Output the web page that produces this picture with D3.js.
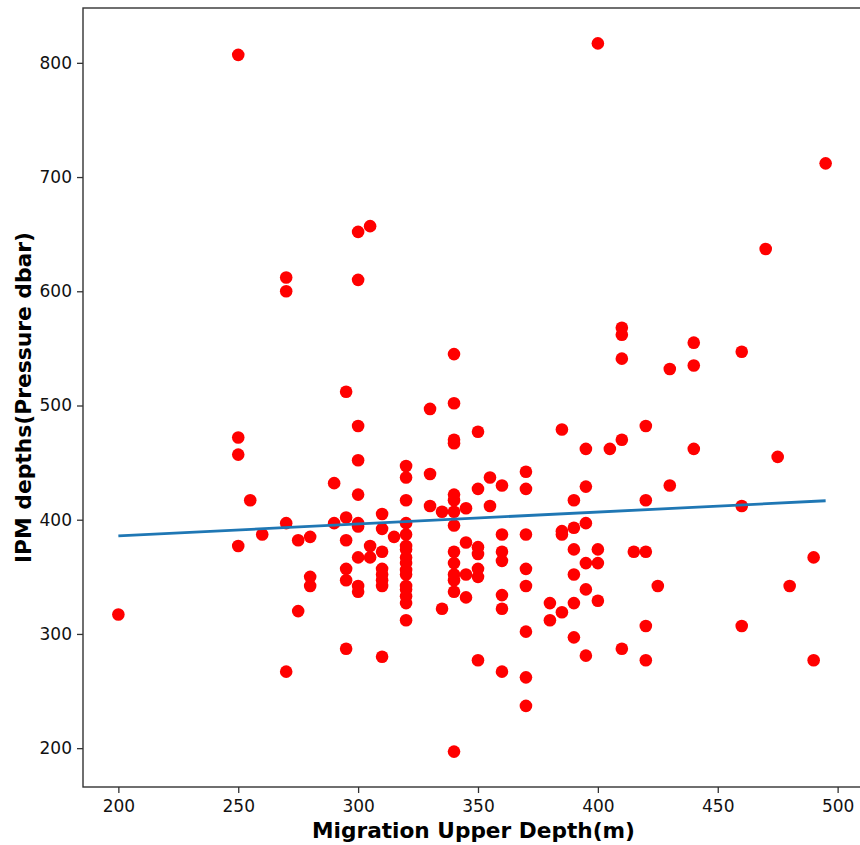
<!DOCTYPE html>
<html>
<head>
<meta charset="utf-8">
<script src="https://cdn.jsdelivr.net/npm/d3@7"></script>
<style>
    body { margin: 0; background: #ffffff; }
    svg { display: block; font-family: "DejaVu Sans", sans-serif; }
</style>
</head>
<body>
<svg id="chart" width="860" height="845"></svg>
<script>
// Migration upper depth (m), one entry per float
const upperDepth = [
    200,
    250, 250, 250, 250,
    255, 260,
    270, 270, 270, 270,
    275, 275,
    280, 280, 280,
    290, 290,
    295, 295, 295, 295, 295, 295,
    300, 300, 300, 300, 300, 300, 300, 300, 300, 300,
    305, 305, 305,
    310, 310, 310, 310, 310, 310, 310, 310,
    315,
    320, 320, 320, 320, 320, 320, 320, 320, 320, 320, 320, 320, 320, 320, 320, 320,
    330, 330, 330,
    335, 335,
    340, 340, 340, 340, 340, 340, 340, 340, 340, 340, 340, 340, 340, 340,
    345, 345, 345, 345,
    350, 350, 350, 350, 350, 350, 350,
    355, 355,
    360, 360, 360, 360, 360, 360, 360,
    370, 370, 370, 370, 370, 370, 370, 370,
    380, 380,
    385, 385, 385, 385,
    390, 390, 390, 390, 390, 390,
    395, 395, 395, 395, 395, 395,
    400, 400, 400, 400,
    405,
    410, 410, 410, 410, 410,
    415,
    420, 420, 420, 420, 420,
    425,
    430, 430,
    440, 440, 440,
    460, 460, 460,
    470, 475, 480,
    490, 490,
    495,
];

// IPM depth (pressure dbar), same order
const ipmDepth = [
    317,
    807, 472, 457, 377,
    417, 387,
    612, 600, 397, 267,
    382, 320,
    385, 350, 342,
    432, 397,
    512, 402, 382, 357, 347, 287,
    652, 610, 482, 452, 422, 397, 394, 367, 342, 337,
    657, 377, 367,
    405, 392, 372, 357, 352, 347, 342, 280,
    385,
    447, 437, 417, 397, 387, 377, 374, 367, 362, 356, 352, 342, 339, 333, 327, 312,
    497, 440, 412,
    407, 322,
    545, 502, 470, 467, 422, 417, 407, 395, 372, 362, 352, 347, 337, 197,
    410, 380, 352, 332,
    477, 427, 376, 370, 357, 350, 277,
    437, 412,
    430, 387, 372, 364, 334, 322, 267,
    442, 427, 387, 357, 342, 302, 262, 237,
    327, 312,
    479, 390, 387, 319,
    417, 393, 374, 352, 327, 297,
    462, 429, 397, 362, 339, 281,
    817, 374, 362, 329,
    462,
    568, 562, 541, 470, 287,
    372,
    482, 417, 372, 307, 277,
    342,
    532, 430,
    555, 535, 462,
    547, 412, 307,
    637, 455, 342,
    367, 277,
    712,
];

const xTicks = [200, 250, 300, 350, 400, 450, 500];
const yTicks = [200, 300, 400, 500, 600, 700, 800];

const points = upperDepth.map((d, i) => ({ x: d, y: ipmDepth[i] }));

const box = { left: 83, right: 861, top: 8, bottom: 787 };

// matplotlib style 5% margins
function padded(ext) {
    const m = (ext[1] - ext[0]) * 0.05;
    return [ext[0] - m, ext[1] + m];
}

const scaleX = d3
    .scaleLinear()
    .domain(padded(d3.extent(upperDepth)))
    .range([box.left, box.right]);
const scaleY = d3
    .scaleLinear()
    .domain(padded(d3.extent(ipmDepth)))
    .range([box.bottom, box.top]);

const svg = d3.select("#chart");

// Points
svg.append("g")
    .selectAll("circle")
    .data(points)
    .enter()
    .append("circle")
    .attr("cx", (d) => scaleX(d.x))
    .attr("cy", (d) => scaleY(d.y))
    .attr("r", 6.3)
    .attr("fill", "#ff0000");

// Least squares fit
const mx = d3.mean(upperDepth),
    my = d3.mean(ipmDepth);
const slope =
    d3.sum(points, (d) => (d.x - mx) * (d.y - my)) /
    d3.sum(points, (d) => (d.x - mx) * (d.x - mx));
const intercept = my - slope * mx;
const fitEnds = d3.extent(upperDepth);
console.log("fit", slope, intercept);

svg.append("line")
    .attr("x1", scaleX(fitEnds[0]))
    .attr("y1", scaleY(intercept + slope * fitEnds[0]))
    .attr("x2", scaleX(fitEnds[1]))
    .attr("y2", scaleY(intercept + slope * fitEnds[1]))
    .attr("stroke", "#1f77b4")
    .attr("stroke-width", 2.8);

// Axes
const xAxis = svg
    .append("g")
    .attr("transform", `translate(0,${box.bottom})`)
    .call(d3.axisBottom(scaleX).tickValues(xTicks).tickSize(6).tickPadding(7));
const yAxis = svg
    .append("g")
    .attr("transform", `translate(${box.left},0)`)
    .call(d3.axisLeft(scaleY).tickValues(yTicks).tickSize(6).tickPadding(5));

for (const ax of [xAxis, yAxis]) {
    ax.select(".domain").remove();
    ax.selectAll(".tick line").attr("stroke", "#333").attr("stroke-width", 1.3);
    ax.selectAll(".tick text")
        .attr("fill", "#111")
        .style("font-size", "17px")
        .style("font-family", '"DejaVu Sans", sans-serif');
}

// Frame
svg.append("rect")
    .attr("x", box.left)
    .attr("y", box.top)
    .attr("width", box.right - box.left)
    .attr("height", box.bottom - box.top)
    .attr("fill", "none")
    .attr("stroke", "#333")
    .attr("stroke-width", 1.4);

// Labels
svg.append("text")
    .attr("x", 473.5)
    .attr("y", 838)
    .attr("text-anchor", "middle")
    .attr("font-weight", "bold")
    .attr("font-size", 20.5)
    .attr("textLength", 323)
    .attr("lengthAdjust", "spacingAndGlyphs")
    .text("Migration Upper Depth(m)");

svg.append("text")
    .attr("transform", `translate(31,${(232 + 563) / 2}) rotate(-90)`)
    .attr("text-anchor", "middle")
    .attr("font-weight", "bold")
    .attr("font-size", 21)
    .attr("textLength", 331)
    .attr("lengthAdjust", "spacingAndGlyphs")
    .text("IPM depths(Pressure dbar)");
</script>
</body>
</html>
